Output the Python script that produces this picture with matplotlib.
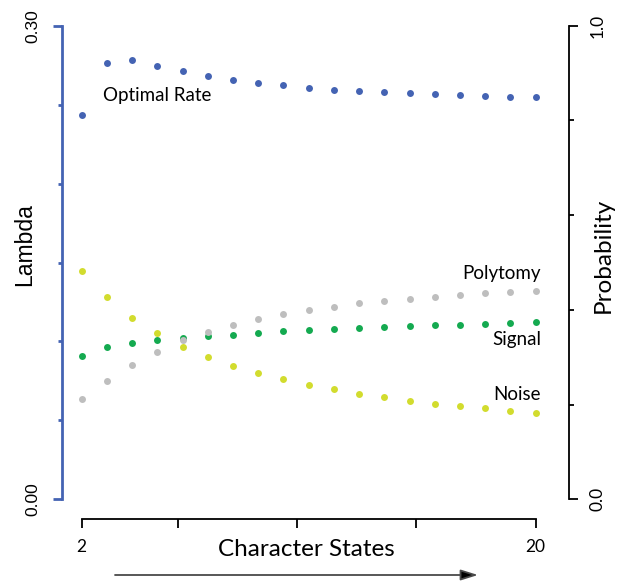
import matplotlib
matplotlib.use('Agg')
import matplotlib.pyplot as plt

# data
states = list(range(2, 21))

optimal_rate = [0.2436, 0.2766, 0.2781, 0.2747, 0.2711, 0.2681, 0.2656, 0.2637, 0.2622,
                0.2607, 0.2595, 0.2586, 0.2578, 0.2572, 0.2565, 0.2561, 0.2555, 0.2550, 0.2546]

noise = [0.482, 0.4265, 0.3834, 0.3505, 0.3222, 0.3005, 0.2821, 0.2660, 0.2540, 0.2420,
         0.2323, 0.2230, 0.2160, 0.2082, 0.2019, 0.1970, 0.1921, 0.1871, 0.1829]

signal = [0.3032, 0.3216, 0.3307, 0.3357, 0.3412, 0.3442, 0.3476, 0.3518, 0.3547, 0.3568,
          0.3590, 0.3611, 0.3632, 0.3653, 0.3674, 0.3687, 0.3708, 0.3729, 0.3744]

polytomy = [0.2118, 0.2492, 0.2836, 0.3117, 0.3357, 0.3526, 0.3680, 0.3801, 0.3906, 0.3991,
            0.4067, 0.4139, 0.4187, 0.4236, 0.4278, 0.4320, 0.4350, 0.4383, 0.4405]

x_ticks = [2, 5.8, 10.53, 15.27, 20]
x_ticklabels = ['2', '', '', '', '20']
lambda_ticks = [0.05, 0.10, 0.15, 0.20, 0.25]
prob_ticks = [0.2, 0.4, 0.6, 0.8]

blue = '#4463B3'
yellow = '#D2DC2E'
green = '#14AA50'
gray = '#BEBEBE'

arial = 'Liberation Sans'
calibri = 'Lato'

W, H = 626, 581
fig = plt.figure(figsize=(W / 100, H / 100), dpi=100)

# plot region in pixels: x 62..569, y 7..519
ax = fig.add_axes([62 / W, 1 - 519 / H, (569 - 62) / W, (519 - 7) / H])
ax.set_xlim(1.219, 21.32)
ax.set_ylim(-0.01248, 0.31185)
ax2 = ax.twinx()
ax2.set_ylim(-0.0416, 1.0395)

ms = 5
ax.plot(states, optimal_rate, 'o', ms=ms, color=blue, mec='none', clip_on=False)
ax2.plot(states, signal, 'o', ms=ms, color=green, mec='none', clip_on=False)
ax2.plot(states, polytomy, 'o', ms=ms, color=gray, mec='none', clip_on=False)
ax2.plot(states, noise, 'o', ms=ms, color=yellow, mec='none', clip_on=False)

# R style detached axes
for s in ['top', 'right']:
    ax.spines[s].set_visible(False)
for s in ['top', 'left', 'bottom']:
    ax2.spines[s].set_visible(False)
ax.spines['left'].set_bounds(0, 0.3)
ax.spines['left'].set_color(blue)
ax.spines['left'].set_linewidth(2)
ax.spines['bottom'].set_bounds(2, 20)
ax.spines['bottom'].set_linewidth(1.3)
ax2.spines['right'].set_bounds(0, 1)
ax2.spines['right'].set_linewidth(1.3)

# left axis (Lambda)
ax.set_yticks([0, 0.3])
ax.set_yticklabels(['0.00', '0.30'], rotation=90, va='center', family=arial, fontsize=12.5)
ax.set_yticks(lambda_ticks, minor=True)
ax.tick_params(axis='y', which='major', length=6.5, width=2, color=blue, pad=9)
ax.tick_params(axis='y', which='minor', length=3, width=2, color=blue)

# bottom axis
ax.set_xticks(x_ticks)
ax.set_xticklabels(x_ticklabels, family=calibri, fontsize=12.5)
ax.tick_params(axis='x', which='major', length=6.5, width=1.3, pad=8)

# right axis (Probability)
ax2.set_yticks([0, 1])
ax2.set_yticklabels(['0.0', '1.0'], rotation=90, va='center', family=calibri, fontsize=12.5)
ax2.set_yticks(prob_ticks, minor=True)
ax2.tick_params(axis='y', which='major', length=6.5, width=1.3, pad=8)
ax2.tick_params(axis='y', which='minor', length=3.5, width=1.3)

# axis titles
fig.text(25 / W, 1 - 245 / H, 'Lambda', rotation=90, ha='center', va='center',
         family=arial, fontsize=16.5)
fig.text(603 / W, 1 - 255 / H, 'Probability', rotation=90, ha='center', va='center',
         family=calibri, fontsize=17.5)
fig.text(306 / W, 1 - 549 / H, 'Character States', ha='center', va='center',
         family=calibri, fontsize=17.5)

# series labels
fig.text(103 / W, 1 - 101 / H, 'Optimal Rate', ha='left', va='baseline', family=calibri, fontsize=13.5)
fig.text(541 / W, 1 - 279 / H, 'Polytomy', ha='right', va='baseline', family=calibri, fontsize=13.5)
fig.text(541 / W, 1 - 345 / H, 'Signal', ha='right', va='baseline', family=calibri, fontsize=13.5)
fig.text(541 / W, 1 - 400.5 / H, 'Noise', ha='right', va='baseline', family=calibri, fontsize=13.5)

# arrow under the x axis: grey shaft, black head
fig.patches.append(matplotlib.patches.FancyArrowPatch(
    (115 / W, 1 - 575 / H), (478 / W, 1 - 575 / H), transform=fig.transFigure,
    arrowstyle='-|>,head_length=0.8,head_width=0.25', mutation_scale=13,
    edgecolor='#4a4a4a', facecolor='black', lw=1.3, shrinkA=0, shrinkB=0))

fig.savefig('out.png', dpi=100)
